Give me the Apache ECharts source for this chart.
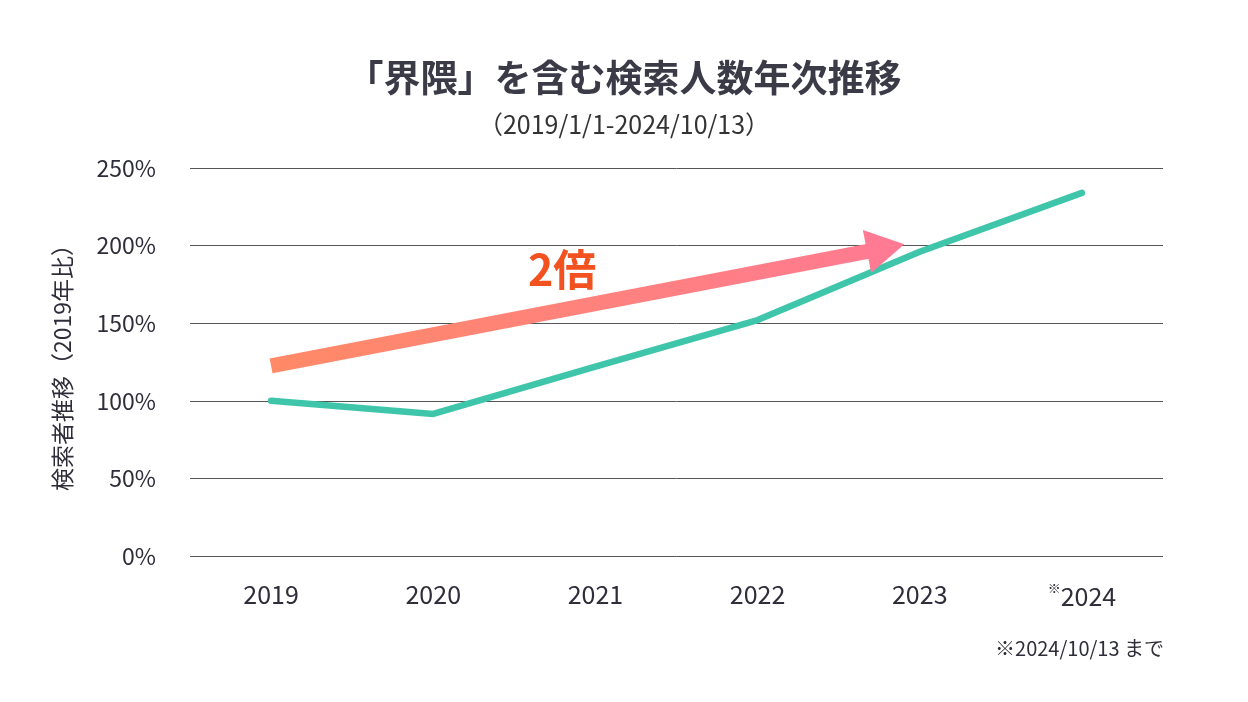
<!DOCTYPE html>
<html>
<head>
<meta charset="utf-8">
<script src="https://cdn.jsdelivr.net/npm/echarts@6/dist/echarts.min.js"></script>
<style>
  html, body { margin: 0; padding: 0; background: #fff; }
  #main { width: 1248px; height: 702px; }
</style>
</head>
<body>
<div id="main"></div>
<script>
var chartDom = document.getElementById('main');
var myChart = echarts.init(chartDom);
var option;

// data
var years = ['2019', '2020', '2021', '2022', '2023', '2024'];
var searchRatio = [100, 91.5, 122, 152, 196, 234];
var yTicks = [0, 50, 100, 150, 200, 250];
// "2倍" arrow, in (category index, %) units; end = centre of the head
var arrowStart = [0, 122.5];
var arrowEnd = [3.79, 198.5];

var FONT = '"Noto Sans CJK JP", "Noto Sans", sans-serif';
var PINK = '#ff7a92';

option = {
    backgroundColor: '#fff',
    title: [
        {
            text: '「界隈」を含む検索人数年次推移',
            left: 'center',
            top: 54,
            textStyle: { fontFamily: FONT, fontSize: 37, fontWeight: 'bold', color: '#3b3b48' }
        },
        {
            text: '（2019/1/1-2024/10/13）',
            left: 'center',
            top: 107,
            textStyle: { fontFamily: FONT, fontSize: 25, fontWeight: 'normal', color: '#333' }
        }
    ],
    grid: { left: 190, right: 85, top: 168, bottom: 146 },
    xAxis: [
        {
            type: 'category',
            data: years,
            boundaryGap: true,
            axisLine: { show: false },
            axisTick: { show: false },
            axisLabel: {
                margin: 26,
                fontFamily: FONT,
                fontSize: 25,
                color: '#2e2e3a',
                formatter: function (v) {
                    return v === '2024' ? '{s|※}' + v : v;
                },
                rich: {
                    s: { fontSize: 13, verticalAlign: 'top', padding: [0, 0, 16, 0], color: '#2e2e3a' }
                }
            }
        },
        {
            type: 'value',
            min: -0.5,
            max: 5.5,
            show: false
        }
    ],
    yAxis: {
        type: 'value',
        min: 0,
        max: 250,
        interval: 50,
        name: '検索者推移（2019年比）',
        nameLocation: 'middle',
        nameRotate: 90,
        nameGap: 116,
        nameTextStyle: { fontFamily: FONT, fontSize: 23, color: '#2e2e3a' },
        axisLine: { show: false },
        axisTick: { show: false },
        axisLabel: {
            margin: 34,
            fontFamily: FONT,
            fontSize: 23,
            color: '#2e2e3a',
            formatter: function (v) {
                return yTicks.indexOf(v) >= 0 ? v + '%' : '';
            }
        },
        splitLine: { lineStyle: { color: '#555', width: 1 } }
    },
    series: [
        {
            type: 'line',
            data: searchRatio,
            symbol: 'none',
            lineStyle: { color: '#3fc6aa', width: 6.5, cap: 'round', join: 'round' },
            z: 3
        },
        {
            id: 'arrow',
            type: 'line',
            xAxisIndex: 1,
            data: [],
            symbol: 'none',
            markLine: {
                silent: true,
                symbol: ['none', 'none'],
                label: { show: false },
                lineStyle: {
                    type: 'solid',
                    width: 15,
                    color: new echarts.graphic.LinearGradient(0, 0, 1, 0, [
                        { offset: 0, color: '#ff8a66' },
                        { offset: 1, color: PINK }
                    ])
                },
                data: [[{ coord: arrowStart }, { coord: arrowEnd }]]
            },
            z: 2
        }
    ],
    graphic: [
        {
            type: 'text',
            left: 528,
            top: 248,
            style: { text: '2倍', fontFamily: FONT, fontSize: 43, fontWeight: 'bold', fill: '#f2521f' }
        },
        {
            type: 'text',
            right: 84,
            top: 638,
            style: { text: '※2024/10/13 まで', fontFamily: FONT, fontSize: 20, fill: '#2e2e3a' }
        }
    ]
};

option && myChart.setOption(option);

// arrow head: a triangle at the end, turned along the shaft
var p0 = myChart.convertToPixel({ xAxisIndex: 1, yAxisIndex: 0 }, arrowStart);
var p1 = myChart.convertToPixel({ xAxisIndex: 1, yAxisIndex: 0 }, arrowEnd);
var angle = Math.atan2(p0[1] - p1[1], p1[0] - p0[0]) * 180 / Math.PI;
myChart.setOption({
    series: [{
        id: 'arrow',
        markPoint: {
            silent: true,
            symbol: 'path://M5,0 L10,10 L0,10 Z',
            symbolSize: [44, 38],
            symbolRotate: angle - 90,
            itemStyle: { color: PINK },
            label: { show: false },
            data: [{ coord: arrowEnd }]
        }
    }]
});
</script>
</body>
</html>
